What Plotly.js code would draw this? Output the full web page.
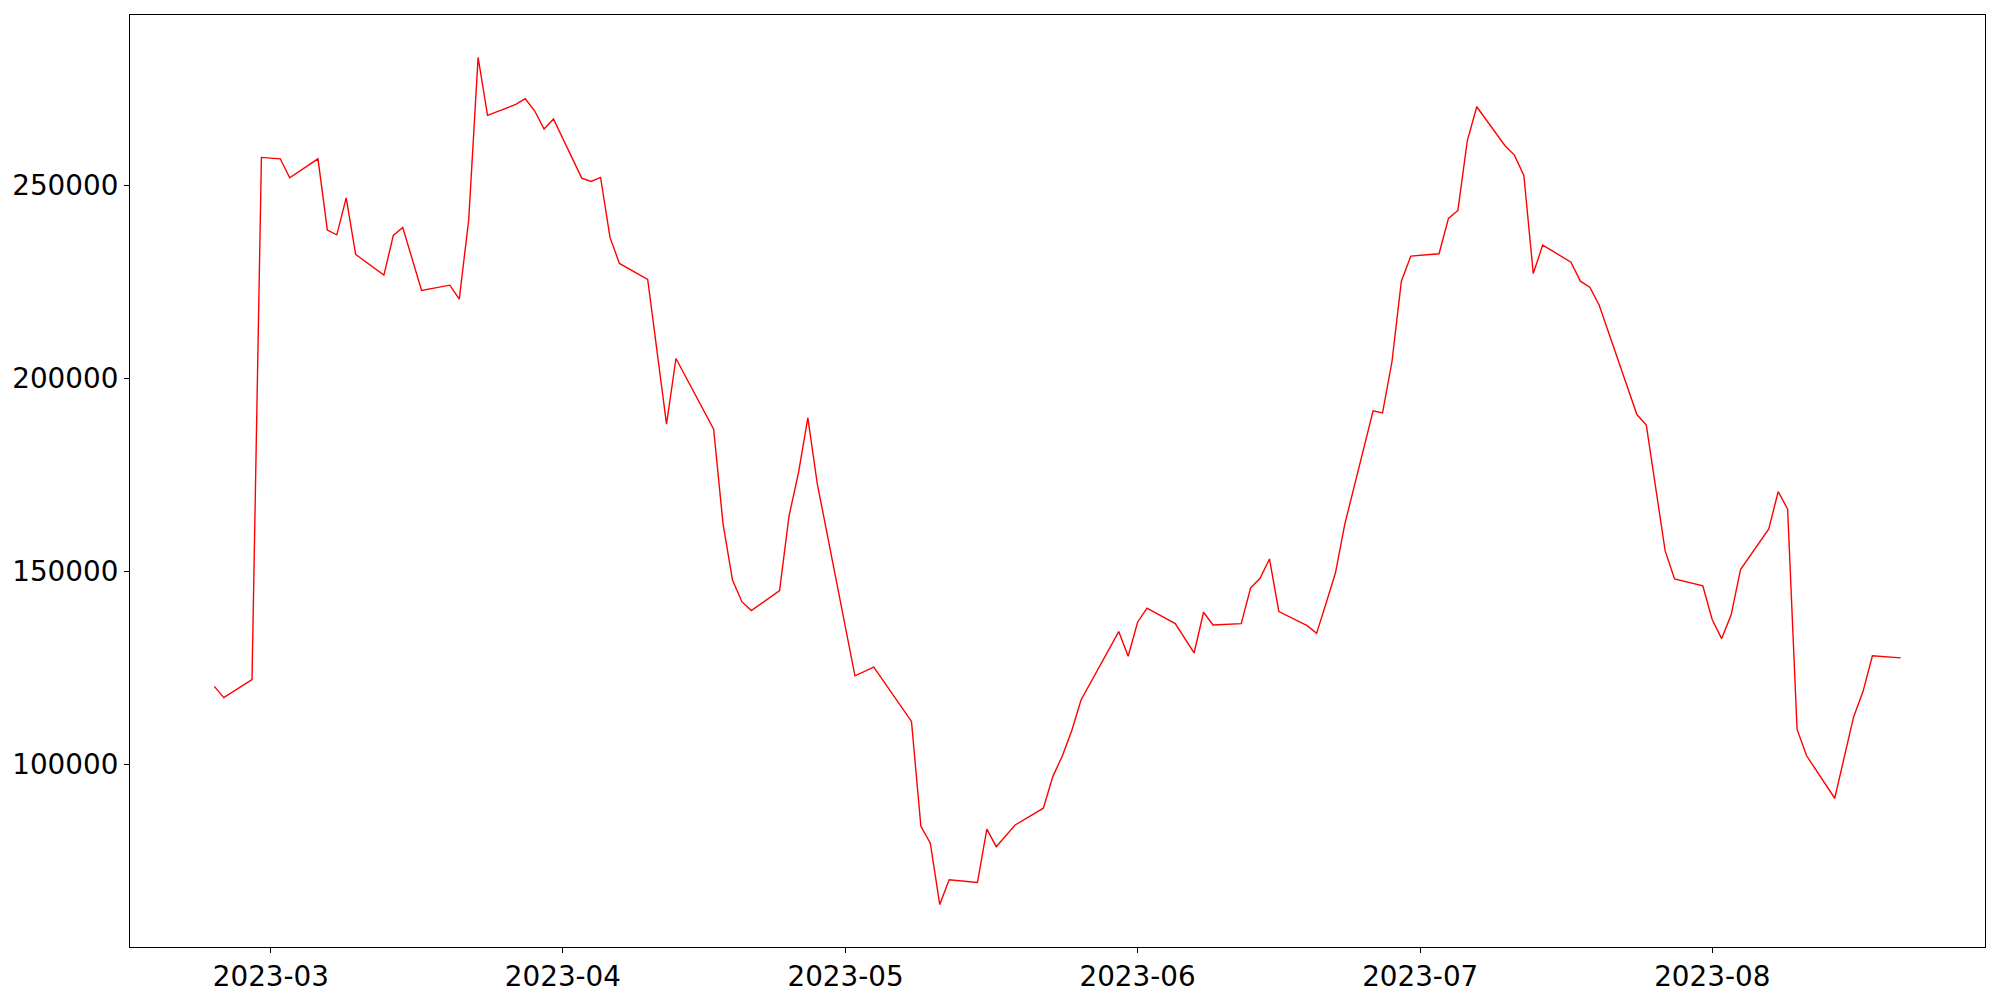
<!DOCTYPE html>
<html>
<head>
<meta charset="utf-8">
<script src="https://cdn.plot.ly/plotly-3.0.1.min.js"></script>
<style>html,body{margin:0;padding:0;background:#fff;}#chart{width:2000px;height:1000px;}</style>
</head>
<body>
<div id="chart"></div>
<script>
const dates = [
  "2023-02-23","2023-02-24","2023-02-27","2023-02-28","2023-03-02","2023-03-03","2023-03-06","2023-03-07",
  "2023-03-08","2023-03-09","2023-03-10","2023-03-13","2023-03-14","2023-03-15","2023-03-17","2023-03-20",
  "2023-03-21","2023-03-22","2023-03-23","2023-03-24","2023-03-27","2023-03-28","2023-03-29","2023-03-30",
  "2023-03-31","2023-04-03","2023-04-04","2023-04-05","2023-04-06","2023-04-07","2023-04-10","2023-04-12",
  "2023-04-13","2023-04-17","2023-04-18","2023-04-19","2023-04-20","2023-04-21","2023-04-24","2023-04-25",
  "2023-04-26","2023-04-27","2023-04-28","2023-05-02","2023-05-04","2023-05-08","2023-05-09","2023-05-10",
  "2023-05-11","2023-05-12","2023-05-15","2023-05-16","2023-05-17","2023-05-18","2023-05-19","2023-05-22",
  "2023-05-23","2023-05-24","2023-05-25","2023-05-26","2023-05-30","2023-05-31","2023-06-01","2023-06-02",
  "2023-06-05","2023-06-07","2023-06-08","2023-06-09","2023-06-12","2023-06-13","2023-06-14","2023-06-15",
  "2023-06-16","2023-06-19","2023-06-20","2023-06-21","2023-06-22","2023-06-23","2023-06-26","2023-06-27",
  "2023-06-28","2023-06-29","2023-06-30","2023-07-03","2023-07-04","2023-07-05","2023-07-06","2023-07-07",
  "2023-07-10","2023-07-11","2023-07-12","2023-07-13","2023-07-14","2023-07-17","2023-07-18","2023-07-19",
  "2023-07-20","2023-07-24","2023-07-25","2023-07-27","2023-07-28","2023-07-31","2023-08-01","2023-08-02",
  "2023-08-03","2023-08-04","2023-08-07","2023-08-08","2023-08-09","2023-08-10","2023-08-11","2023-08-14",
  "2023-08-16","2023-08-17","2023-08-18","2023-08-21"
];
const values = [
  120180,117280,121920,257170,256810,251900,256810,238340,
  237130,246710,232040,226680,236960,239040,222720,224090,
  220470,240930,283080,268050,270900,272360,269250,264510,
  267100,251810,250950,251990,236450,229710,225570,188080,
  205100,186790,162250,147720,142120,139820,145000,164280,
  175440,189720,172720,122930,125180,111110,83940,79590,
  63680,70130,69400,83210,78680,81400,84300,88650,
  96830,102100,108650,116660,134370,128000,136810,140470,
  136450,128840,139380,136090,136450,145720,148180,153180,
  139560,135910,133910,141640,149540,162250,191530,191030,
  204250,225130,231610,232210,241370,243440,261480,270290,
  260190,257770,252510,227120,234460,230050,225130,223580,
  218910,190590,187850,155260,148010,146200,137460,132560,
  138640,150450,160990,170620,166090,109120,102280,91220,
  112280,118840,128110,127570
];
const xTickVals = ["2023-03-01","2023-04-01","2023-05-01","2023-06-01","2023-07-01","2023-08-01"];
const xTickText = ["2023-03","2023-04","2023-05","2023-06","2023-07","2023-08"];
const yTickVals = [100000,150000,200000,250000];
const yTickText = ["100000","150000","200000","250000"];

const trace = {
  x: dates, y: values, type: "scatter", mode: "lines",
  line: {color: "#ff0000", width: 1.4}, hoverinfo: "skip"
};
const axisCommon = {
  showgrid: false, zeroline: false, showline: true, mirror: true,
  linecolor: "#000", linewidth: 1.1, ticks: "outside", ticklen: 5,
  tickwidth: 1.1, tickcolor: "#000",
  tickfont: {family: "DejaVu Sans", size: 27.8, color: "#000"}
};
const layout = {
  width: 2000, height: 1000,
  margin: {l: 130, r: 15, t: 15, b: 53, pad: 0},
  paper_bgcolor: "#fff", plot_bgcolor: "#fff",
  showlegend: false,
  xaxis: Object.assign({}, axisCommon, {
    type: "date", range: ["2023-02-14 01:12", "2023-08-29 22:48"],
    tickmode: "array", tickvals: xTickVals, ticktext: xTickText
  }),
  yaxis: Object.assign({}, axisCommon, {
    range: [52700, 294050],
    tickmode: "array", tickvals: yTickVals, ticktext: yTickText
  })
};
Plotly.newPlot("chart", [trace], layout, {displayModeBar: false, staticPlot: true});
</script>
</body>
</html>
